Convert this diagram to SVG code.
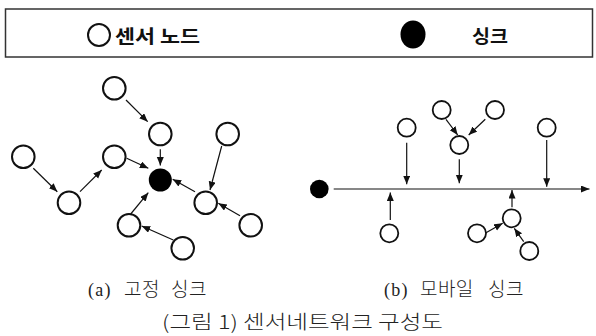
<svg xmlns="http://www.w3.org/2000/svg" width="596" height="336" viewBox="0 0 596 336">
  <style>
    .node { fill: #fff; stroke: #111; stroke-width: 2; }
    .node-s { fill: #fff; stroke: #111; stroke-width: 1.8; }
    .sink { fill: #000; }
    .edge { stroke: #111; stroke-width: 1.2; fill: none; marker-end: url(#arrow); }
    .legend { font-family: "Noto Sans CJK KR", sans-serif; font-weight: bold; font-size: 18px; fill: #111; }
    .sub { font-family: "Liberation Serif", "Noto Sans CJK KR", serif; font-weight: 300; font-size: 19px; fill: #222; letter-spacing: 0.4px; }
    .cap { font-family: "Noto Sans CJK KR", sans-serif; font-weight: 300; font-size: 19px; fill: #222; }
  </style>
  <defs>
    <marker id="arrow" markerUnits="userSpaceOnUse" markerWidth="9" markerHeight="8" refX="8.5" refY="3.5" orient="auto">
      <path d="M0,0 L8.5,3.5 L0,7 z" fill="#111"/>
    </marker>
  </defs>
  <rect width="596" height="336" fill="#fff"/>

  <!-- legend -->
  <g id="legend">
    <rect x="5.5" y="9" width="587" height="48" fill="none" stroke="#333" stroke-width="1.5"/>
    <circle class="node" cx="99" cy="35" r="11"/>
    <text class="legend" x="115" y="43" textLength="85" lengthAdjust="spacingAndGlyphs">센서 노드</text>
    <ellipse class="sink" cx="413" cy="34.5" rx="12.5" ry="14"/>
    <text class="legend" x="472" y="43" textLength="36" lengthAdjust="spacingAndGlyphs">싱크</text>
  </g>

  <!-- (a) fixed sink -->
  <g id="a-sink"><circle class="sink" cx="160.3" cy="180" r="11.5"/></g>
  <g id="a-n1"><circle class="node" cx="114.3" cy="88.3" r="11.3"/></g>
  <g id="a-n2"><circle class="node" cx="160.3" cy="134" r="11.3"/></g>
  <g id="a-n3"><circle class="node" cx="227.7" cy="134" r="11.3"/></g>
  <g id="a-n4"><circle class="node" cx="23.3" cy="156.7" r="11.3"/></g>
  <g id="a-n5"><circle class="node" cx="114.3" cy="156.7" r="11.3"/></g>
  <g id="a-n6"><circle class="node" cx="69" cy="202.7" r="11.3"/></g>
  <g id="a-n7"><circle class="node" cx="205.7" cy="202.7" r="11.3"/></g>
  <g id="a-n8"><circle class="node" cx="129" cy="225.3" r="11.3"/></g>
  <g id="a-n9"><circle class="node" cx="250.7" cy="225.3" r="11.3"/></g>
  <g id="a-n10"><circle class="node" cx="182.7" cy="248.3" r="11.3"/></g>

  <!-- (b) mobile sink -->
  <g id="b-sink"><circle class="sink" cx="319.3" cy="189" r="9.3"/></g>
  <g id="b-n1"><circle class="node-s" cx="406.7" cy="127.7" r="9"/></g>
  <g id="b-n2"><circle class="node-s" cx="441.7" cy="110" r="9"/></g>
  <g id="b-n3"><circle class="node-s" cx="495" cy="110" r="9"/></g>
  <g id="b-n4"><circle class="node-s" cx="459.3" cy="145" r="9"/></g>
  <g id="b-n5"><circle class="node-s" cx="546.7" cy="127.7" r="9"/></g>
  <g id="b-n6"><circle class="node-s" cx="389.3" cy="233.3" r="9"/></g>
  <g id="b-n7"><circle class="node-s" cx="511.7" cy="218.3" r="9"/></g>
  <g id="b-n8"><circle class="node-s" cx="477" cy="233.3" r="9"/></g>
  <g id="b-n9"><circle class="node-s" cx="529.3" cy="251" r="9"/></g>

  <!-- connectors -->
  <g id="connectors">
    <!-- (a) -->
    <line class="edge" x1="126" y1="100" x2="147.7" y2="121.7"/>
    <line class="edge" x1="160.3" y1="149.3" x2="160.3" y2="165.5"/>
    <line class="edge" x1="126.7" y1="158.3" x2="148.3" y2="168.3"/>
    <line class="edge" x1="33.3" y1="168.3" x2="57.3" y2="191.7"/>
    <line class="edge" x1="80" y1="191.7" x2="101.7" y2="170"/>
    <line class="edge" x1="221.7" y1="146" x2="210" y2="190"/>
    <line class="edge" x1="195" y1="191.7" x2="172.7" y2="179.3"/>
    <line class="edge" x1="240" y1="215.7" x2="218.3" y2="203.3"/>
    <line class="edge" x1="130.7" y1="214" x2="148.3" y2="192.7"/>
    <line class="edge" x1="173.3" y1="240" x2="141.7" y2="226"/>
    <!-- (b) sink path -->
    <line class="edge" x1="333.7" y1="189" x2="589.5" y2="189"/>
    <line class="edge" x1="406.7" y1="142.7" x2="406.7" y2="184.3"/>
    <line class="edge" x1="459.3" y1="159.3" x2="459.3" y2="183.3"/>
    <line class="edge" x1="546.7" y1="140" x2="546.7" y2="186.7"/>
    <line class="edge" x1="446" y1="119.3" x2="457.7" y2="135"/>
    <line class="edge" x1="485.3" y1="119.3" x2="468.7" y2="135"/>
    <line class="edge" x1="390.3" y1="220" x2="390.3" y2="192.5"/>
    <line class="edge" x1="512" y1="207.3" x2="512" y2="190"/>
    <line class="edge" x1="486" y1="232.7" x2="502.7" y2="223.3"/>
    <line class="edge" x1="523.7" y1="241.7" x2="514.3" y2="228.3"/>
  </g>

  <!-- captions -->
  <text class="sub" y="296"><tspan x="88" font-size="18" letter-spacing="1.2">(a)</tspan> <tspan x="124">고정</tspan> <tspan x="171">싱크</tspan></text>
  <text class="sub" y="296"><tspan x="384" font-size="18" letter-spacing="1.2">(b)</tspan> <tspan x="420">모바일</tspan> <tspan x="488">싱크</tspan></text>
  <text class="cap" x="162" y="329" textLength="281" lengthAdjust="spacingAndGlyphs">(그림 1) 센서네트워크 구성도</text>
</svg>
